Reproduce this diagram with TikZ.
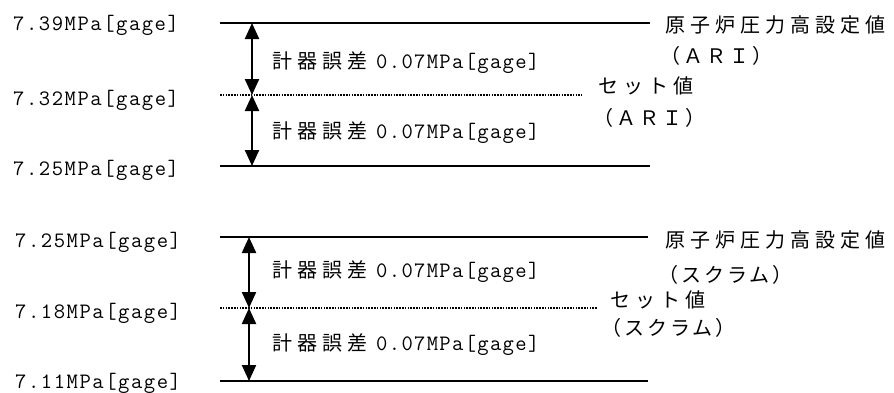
\documentclass[tikz,border=0pt]{standalone}
\usepackage{fontspec}
\usetikzlibrary{arrows.meta}
\newfontfamily\jpfont[LetterSpace=25]{Noto Sans CJK JP}
\newfontfamily\jpmid[LetterSpace=15]{Noto Sans CJK JP}
\newfontfamily\lmmwide[LetterSpace=7]{Latin Modern Mono}
\newfontfamily\lmmtight[LetterSpace=6]{Latin Modern Mono}
\newcommand{\lmono}{\lmmwide\fontsize{22}{24}\selectfont}
\newcommand{\emono}{\lmmtight\fontsize{22}{24}\selectfont}
\newcommand{\errtext}{{\jpfont 計器誤差}\hspace{9pt}{\emono 0.07MPa[gage]}}
\begin{document}
\begin{tikzpicture}[x=1pt,y=-1pt,
  lab/.style={anchor=west,inner sep=0pt,font=\fontsize{20}{22}\selectfont},
  solidline/.style={line width=2.4pt},
  dotline/.style={line width=2pt,dash pattern=on 1.6pt off 1.2pt},
  dimarrow/.style={line width=2.2pt,{Triangle[width=14pt,length=16pt]}-{Triangle[width=14pt,length=16pt]}}]
\useasboundingbox (0,0) rectangle (894,392);
% top group
\coordinate (a1l) at (220,23);  \coordinate (a1r) at (650,23);
\coordinate (a2l) at (220,95);  \coordinate (a2r) at (582,95);
\coordinate (a3l) at (220,166); \coordinate (a3r) at (650,166);
\coordinate (a1) at (252,23); \coordinate (a2) at (252,95); \coordinate (a3) at (252,166);
\draw[solidline] (a1l) -- (a1r);
\draw[dotline] (a2l) -- (a2r);
\draw[solidline] (a3l) -- (a3r);
\draw[dimarrow] (a1) -- (a2);
\draw[dimarrow] (a2) -- (a3);
\node[lab] (la1) at (13,25) {\lmono 7.39MPa[gage]};
\node[lab] (la2) at (13,100) {\lmono 7.32MPa[gage]};
\node[lab] (la3) at (13,170) {\lmono 7.25MPa[gage]};
\node[lab] (ea1) at (272,63) {\errtext};
\node[lab] (ea2) at (272,133) {\errtext};
\node[lab] (ra1) at (665,25) {\jpfont 原子炉圧力高設定値};
\node[lab] (ra2) at (660,56) {\jpmid （ＡＲＩ）};
\node[lab] (ra3) at (598,86) {\jpfont セット値};
\node[lab] (ra4) at (593,118) {\jpmid （ＡＲＩ）};
% bottom group
\coordinate (b1l) at (220,237); \coordinate (b1r) at (648,237);
\coordinate (b2l) at (220,308); \coordinate (b2r) at (597,308);
\coordinate (b3l) at (220,381); \coordinate (b3r) at (648,381);
\coordinate (b1) at (249,237); \coordinate (b2) at (249,308); \coordinate (b3) at (249,381);
\draw[solidline] (b1l) -- (b1r);
\draw[dotline] (b2l) -- (b2r);
\draw[solidline] (b3l) -- (b3r);
\draw[dimarrow] (b1) -- (b2);
\draw[dimarrow] (b2) -- (b3);
\node[lab] (lb1) at (15,242) {\lmono 7.25MPa[gage]};
\node[lab] (lb2) at (15,313) {\lmono 7.18MPa[gage]};
\node[lab] (lb3) at (15,383) {\lmono 7.11MPa[gage]};
\node[lab] (eb1) at (272,272) {\errtext};
\node[lab] (eb2) at (272,345) {\errtext};
\node[lab] (rb1) at (665,240) {\jpfont 原子炉圧力高設定値};
\node[lab] (rb2) at (658,275) {\jpmid （スクラム）};
\node[lab] (rb3) at (610,300) {\jpfont セット値};
\node[lab] (rb4) at (601,328) {\jpmid （スクラム）};
\end{tikzpicture}
\end{document}
